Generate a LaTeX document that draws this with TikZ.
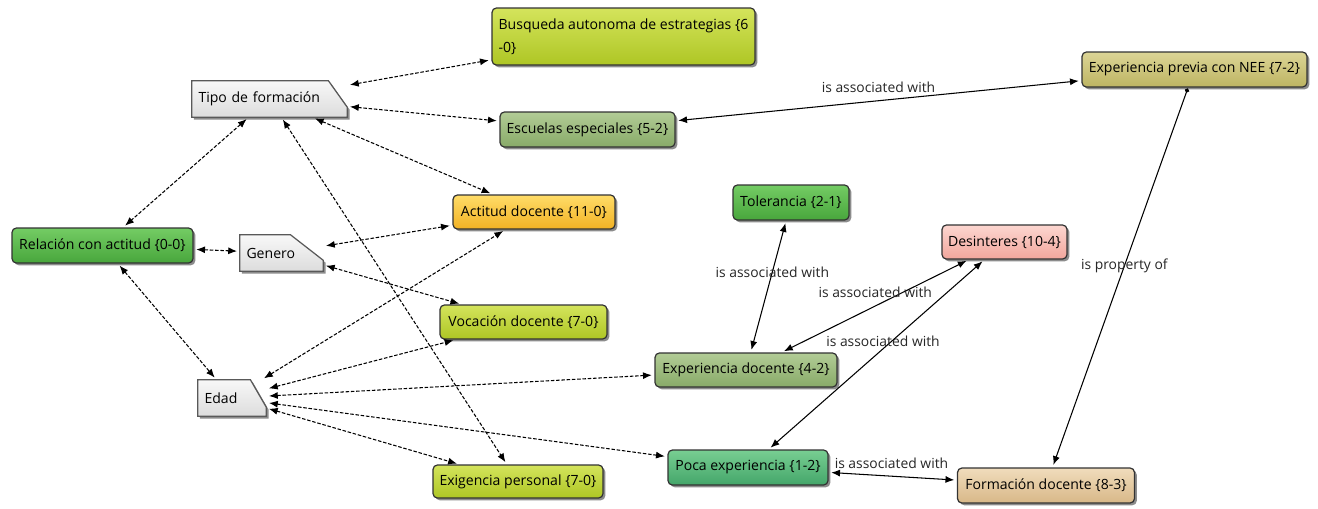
\documentclass[tikz,border=0pt]{standalone}
\usepackage{fontspec}
\setmainfont{Open Sans}
\usepackage{tikz}
\usetikzlibrary{shapes,arrows.meta,shadows,backgrounds}

\definecolor{limetop}{HTML}{D4E45C}
\definecolor{limebot}{HTML}{AEC624}
\definecolor{sagetop}{HTML}{B2CC96}
\definecolor{sagebot}{HTML}{88AA68}
\definecolor{olivetop}{HTML}{DCD596}
\definecolor{olivebot}{HTML}{BDB462}
\definecolor{ambertop}{HTML}{FFDC68}
\definecolor{amberbot}{HTML}{F2B224}
\definecolor{leaftop}{HTML}{74CC64}
\definecolor{leafbot}{HTML}{48A63C}
\definecolor{minttop}{HTML}{78CE92}
\definecolor{mintbot}{HTML}{44A66A}
\definecolor{rosetop}{HTML}{FCD6D0}
\definecolor{rosebot}{HTML}{F2A69C}
\definecolor{santop}{HTML}{F0DCBC}
\definecolor{sanbot}{HTML}{D8B888}
\definecolor{notetop}{HTML}{F8F8F8}
\definecolor{notebot}{HTML}{DCDCDC}

\begin{document}
\begin{tikzpicture}[x=0.02cm, y=-0.02cm,
    concept/.style={draw=black!80, line width=0.7pt, rounded corners=2.5pt,
      font=\fontsize{8}{10}\selectfont, inner sep=2pt,
      drop shadow={shadow xshift=1.3pt, shadow yshift=-1.3pt, opacity=0.45, fill=black}},
    note/.style={rectangle, inner xsep=0.13cm, inner ysep=2pt, align=left,
      font=\fontsize{8}{10}\selectfont},
    notebox/.style={draw=black!65, line width=0.7pt, top color=notetop, bottom color=notebot,
      drop shadow={shadow xshift=1.3pt, shadow yshift=-1.3pt, opacity=0.45, fill=black}},
    dep/.style={{Latex[length=5pt,width=4pt]}-{Latex[length=5pt,width=4pt]},
      dash pattern=on 2pt off 1pt, line width=0.6pt, shorten <=1.5pt, shorten >=1.5pt},
    assoc/.style={{Latex[length=5pt,width=4pt]}-{Latex[length=5pt,width=4pt]},
      line width=0.6pt, shorten <=1.5pt, shorten >=1.5pt},
    lbl/.style={font=\fontsize{7.9}{9}\selectfont, text=black!85, inner sep=1pt}]

    \useasboundingbox (0,0) rectangle (1318,508);

    % Nodes
    \node[concept, top color=limetop, bottom color=limebot, minimum width=5.26cm, minimum height=1.14cm,
      align=left, font=\fontsize{8}{13}\selectfont] (busq) at (623.5,36.5) {Busqueda autonoma de estrategias \{6\\-0\}};
    \node[note, minimum width=3.1cm, minimum height=0.72cm, text width=2.84cm] (tipo) at (269.5,99) {Tipo de formación};
    \node[concept, top color=sagetop, bottom color=sagebot, minimum width=3.5cm, minimum height=0.7cm]
      (escu) at (587.5,129.5) {Escuelas especiales \{5-2\}};
    \node[concept, top color=olivetop, bottom color=olivebot, minimum width=4.5cm, minimum height=0.7cm]
      (nee) at (1194.5,69.5) {Experiencia previa con NEE \{7-2\}};
    \node[concept, top color=ambertop, bottom color=amberbot, minimum width=3.24cm, minimum height=0.68cm]
      (acti) at (534,212) {Actitud docente \{11-0\}};
    \node[concept, top color=leaftop, bottom color=leafbot, minimum width=2.32cm, minimum height=0.7cm]
      (tole) at (791,202.5) {Tolerancia \{2-1\}};
    \node[concept, top color=leaftop, bottom color=leafbot, minimum width=3.62cm, minimum height=0.7cm]
      (rela) at (102.5,245.5) {Relación con actitud \{0-0\}};
    \node[note, minimum width=1.66cm, minimum height=0.72cm, text width=1.4cm] (gene) at (281.5,253) {Genero};
    \node[concept, top color=rosetop, bottom color=rosebot, minimum width=2.5cm, minimum height=0.68cm]
      (desi) at (1004.5,242) {Desinteres \{10-4\}};
    \node[concept, top color=limetop, bottom color=limebot, minimum width=3.34cm, minimum height=0.68cm]
      (voca) at (523.5,322) {Vocación docente \{7-0\}};
    \node[concept, top color=sagetop, bottom color=sagebot, minimum width=3.64cm, minimum height=0.68cm]
      (expd) at (746,370) {Experiencia docente \{4-2\}};
    \node[note, minimum width=1.36cm, minimum height=0.72cm, text width=1.1cm] (edad) at (232,398) {Edad};
    \node[concept, top color=limetop, bottom color=limebot, minimum width=3.4cm, minimum height=0.66cm]
      (exig) at (518,481.5) {Exigencia personal \{7-0\}};
    \node[concept, top color=minttop, bottom color=mintbot, minimum width=3.2cm, minimum height=0.7cm]
      (poca) at (748,467.5) {Poca experiencia \{1-2\}};
    \node[concept, top color=santop, bottom color=sanbot, minimum width=3.54cm, minimum height=0.7cm]
      (form) at (1046,485.5) {Formación docente \{8-3\}};

    % Note outlines with the cut corner
    \begin{scope}[on background layer]
      \path[notebox] (tipo.north west) -- ([xshift=-0.38cm]tipo.north east)
        -- ([yshift=0.2cm]tipo.south east) -- (tipo.south east) -- (tipo.south west) -- cycle;
      \path[notebox] (gene.north west) -- ([xshift=-0.66cm]gene.north east)
        -- ([yshift=0.22cm]gene.south east) -- (gene.south east) -- (gene.south west) -- cycle;
      \path[notebox] (edad.north west) -- ([xshift=-0.32cm]edad.north east)
        -- ([yshift=0.18cm]edad.south east) -- (edad.south east) -- (edad.south west) -- cycle;
    \end{scope}

    % Edges
    \draw[dep] (tipo) -- (busq);
    \draw[dep] (tipo) -- (escu);
    \draw[dep] (tipo) -- (acti);
    \draw[dep] (tipo) -- (exig);
    \draw[dep] (tipo) -- (rela);
    \draw[dep] (rela) -- (gene);
    \draw[dep] (rela) -- (edad);
    \draw[dep] (gene) -- (acti);
    \draw[dep] (gene) -- (voca);
    \draw[dep] (edad) -- (acti);
    \draw[dep] (edad) -- (voca);
    \draw[dep] (edad) -- (expd);
    \draw[dep] (edad) -- (poca);
    \draw[dep] (edad) -- (exig);

    \draw[assoc] (escu) -- node[lbl, above=3.5pt] {is associated with} (nee);
    \draw[assoc] (tole) -- node[lbl, pos=0.39] {is associated with} (expd);
    \draw[assoc] (expd) -- node[lbl, pos=0.5, above=3.2pt] {is associated with} (desi);
    \draw[assoc] (poca) -- node[lbl, pos=0.53, above=0pt] {is associated with} (desi);
    \draw[assoc] (poca) -- node[lbl, pos=0.49, above=3pt] {is associated with} (form);
    \draw[{Circle[length=2.5pt]}-{Latex[length=5pt,width=4pt]}, line width=0.6pt, shorten <=0.5pt,
      shorten >=1.5pt] (nee) -- node[lbl, pos=0.47] {is property of} (form);
\end{tikzpicture}
\end{document}
